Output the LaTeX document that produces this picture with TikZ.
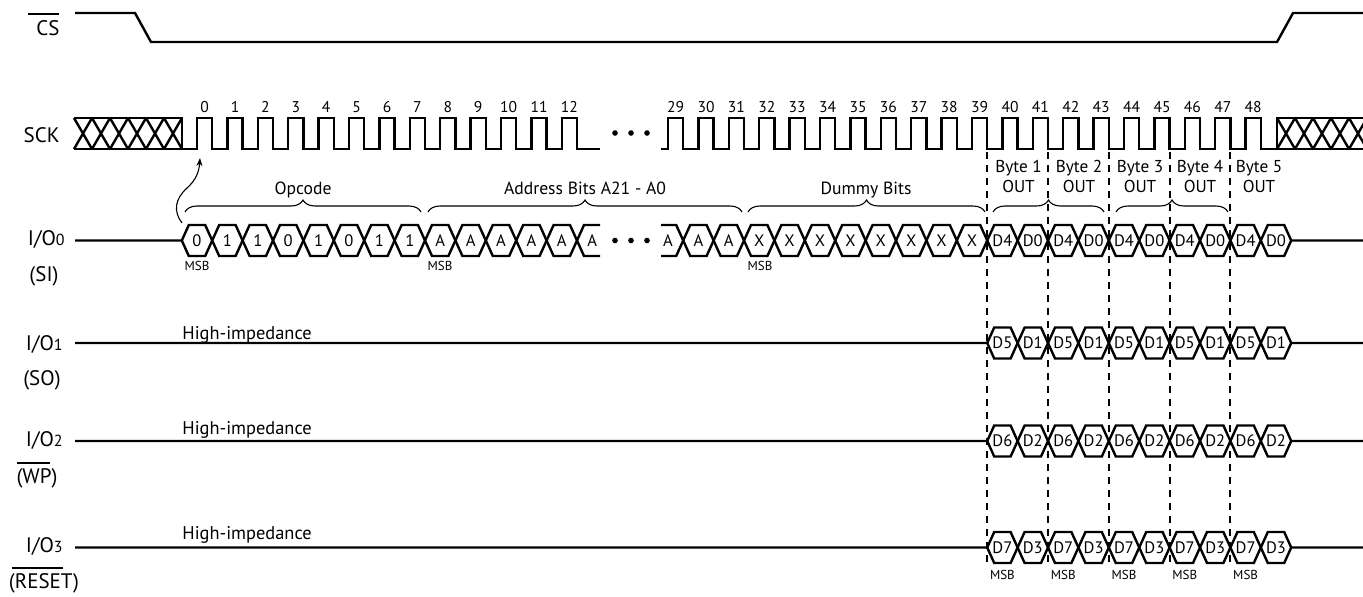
\documentclass[tikz,border=0pt]{standalone}
\usepackage{fontspec}
\setmainfont{PT Sans}
\usetikzlibrary{decorations.pathreplacing,arrows.meta}
\newcommand\smalldig[1]{{\fontsize{8}{8}\selectfont #1}}
\def\hh{15.5}
\def\dd{7}
% bus trace from crossing j0 to end point at 1291.2
\newcommand\busfrom[5]{%
  \draw[sig] #4 foreach \j in {#3,...,48} {
      -- ({30.4*\j-198.4-\dd},{#1-#2*\hh*(1-2*mod(\j-#3,2))})
      -- ({30.4*\j-198.4+\dd},{#1+#2*\hh*(1-2*mod(\j-#3,2))}) }
    -- ({1291.2-\dd},{#1-#2*\hh*(1-2*mod(49-#3,2))}) -- (1291.2,#1) #5;}
\begin{document}
\begin{tikzpicture}[x=0.5pt,y=-0.5pt,
  sig/.style={line width=1.2pt, line join=miter},
  thinl/.style={line width=0.55pt},
  ovl/.style={line width=0.8pt},
  dsh/.style={line width=1pt, dash pattern=on 3.5pt off 3pt},
  lbl/.style={font=\fontsize{10.5}{11}\selectfont, inner sep=0pt},
  num/.style={font=\fontsize{7.8}{8}\selectfont, inner sep=0pt},
  grp/.style={font=\fontsize{8.8}{9}\selectfont, inner sep=0pt},
  byt/.style={font=\fontsize{8.6}{9}\selectfont, inner sep=0pt},
  hiz/.style={font=\fontsize{9.2}{9}\selectfont, inner sep=0pt},
  bit/.style={font=\fontsize{8.3}{8}\selectfont, inner sep=0pt},
  msb/.style={font=\fontsize{6.5}{6}\selectfont, inner sep=0pt},
  brc/.style={thinl, decorate, decoration={brace, amplitude=6pt}},
]
\useasboundingbox (0,0) rectangle (1363,596);

% ---------- labels ----------
\node[lbl, anchor=base east] (lcs) at (60,35) {CS};
\draw[ovl] (28,14) -- (59,14);
\node[lbl, anchor=base east] (lsck) at (60,142) {SCK};
\node[lbl, anchor=base east] (lio0) at (65,245) {I/O\smalldig{0}};
\node[lbl, anchor=base] (lsi) at (44,281) {(SI)};
\node[lbl, anchor=base east] (lio1) at (63,350) {I/O\smalldig{1}};
\node[lbl, anchor=base] (lso) at (42,385) {(SO)};
\node[lbl, anchor=base east] (lio2) at (63,446) {I/O\smalldig{2}};
\node[lbl, anchor=base] (lwp) at (37,483) {(WP)};
\draw[ovl] (17,463) -- (50,463);
\node[lbl, anchor=base east] (lio3) at (63,552) {I/O\smalldig{3}};
\node[lbl, anchor=base] (lrst) at (44,588) {(RESET)};
\draw[ovl] (12,568) -- (63,568);

% ---------- CS ----------
\draw[sig] (75,13) -- (135,13) -- (151,42) -- (1277,42) -- (1293,13) -- (1363,13);

% ---------- SCK ----------
\draw[sig] (74,118) -- (182,118) -- (182,149) -- (74,149);
\foreach \k in {0,...,5}
  \draw[sig] ({74+18*\k},118) -- ({92+18*\k},149) ({74+18*\k},149) -- ({92+18*\k},118);
\draw[sig] (182,149) foreach \n in {0,...,12} {
    -- ({197+30.4*\n},149) -- ({197+30.4*\n},118)
    -- ({212.2+30.4*\n},118) -- ({212.2+30.4*\n},149) } -- (600,149);
\draw[sig] (661,149) foreach \n in {29,...,48} {
    -- ({668+30.4*(\n-29)},149) -- ({668+30.4*(\n-29)},118)
    -- ({683.2+30.4*(\n-29)},118) -- ({683.2+30.4*(\n-29)},149) } -- (1277,149);
\begin{scope}
  \clip (1270,100) rectangle (1363,170);
  \draw[sig] (1370,118) -- (1277,118) -- (1277,149) -- (1370,149);
  \foreach \k in {0,...,4}
    \draw[sig] ({1277+18*\k},118) -- ({1295+18*\k},149) ({1277+18*\k},149) -- ({1295+18*\k},118);
\end{scope}
\foreach \x in {615,631,647} {
  \fill (\x,133) circle[radius=1.4pt];
  \fill (\x,240.5) circle[radius=1.4pt];
}
\foreach \n in {0,...,12} \node[num] (n\n) at ({204.6+30.4*\n},107) {\n};
\foreach \n in {29,...,48} \node[num] (n\n) at ({675.6+30.4*(\n-29)},107) {\n};

% ---------- I/O0 first segment ----------
\draw[sig] (75,240.5) -- (181.8,240.5) -- ({181.8+\dd},{240.5-\hh})
  foreach \k in {1,...,13} {
    -- ({181.8+30.4*\k-\dd},{240.5-\hh*(1-2*mod(\k-1,2))})
    -- ({181.8+30.4*\k+\dd},{240.5-\hh*(1-2*mod(\k,2))}) }
  -- (600,{240.5+\hh});
\draw[sig] (181.8,240.5) -- ({181.8+\dd},{240.5+\hh})
  foreach \k in {1,...,13} {
    -- ({181.8+30.4*\k-\dd},{240.5+\hh*(1-2*mod(\k-1,2))})
    -- ({181.8+30.4*\k+\dd},{240.5+\hh*(1-2*mod(\k,2))}) }
  -- (600,{240.5-\hh});
\foreach \t [count=\k from 0] in {0,1,1,0,1,0,1,1,A,A,A,A,A,A}
  \node[bit] (a\k) at ({197+30.4*\k},240.5) {\t};

% ---------- I/O0 second segment ----------
\busfrom{240.5}{1}{29}{(661,{240.5-\hh})}{-- (1363,240.5)}
\busfrom{240.5}{-1}{29}{(661,{240.5+\hh})}{}
\foreach \t [count=\j from 29] in {A,A,A,X,X,X,X,X,X,X,X,D4,D0,D4,D0,D4,D0,D4,D0,D4,D0}
  \node[bit] (a\j) at ({668+30.4*(\j-29)},240.5) {\t};

% ---------- I/O1..3 ----------
\foreach \y/\nm in {343/p,441/q,547.5/r} {
  \busfrom{\y}{1}{40}{(75,\y) -- (987.2,\y) -- ({987.2+\dd},{\y-\hh})}{-- (1363,\y)}
  \busfrom{\y}{-1}{40}{(987.2,\y) -- ({987.2+\dd},{\y+\hh})}{}
}
\foreach \hi/\lo/\y/\nm in {D5/D1/343/p,D6/D2/441/q,D7/D3/547.5/r}
  \foreach \i in {0,...,4} {
    \node[bit] (\nm\i h) at ({1002.4+60.8*\i},\y) {\hi};
    \node[bit] (\nm\i l) at ({1032.8+60.8*\i},\y) {\lo};
  }
\node[hiz, anchor=base west] (hz1) at (182,339) {High-impedance};
\node[hiz, anchor=base west] (hz2) at (182,434) {High-impedance};
\node[hiz, anchor=base west] (hz3) at (182,539) {High-impedance};

% ---------- dashed lines ----------
\foreach \x in {987.2,1048,1108.8,1169.6,1230.4}
  \draw[dsh] (\x,152) -- (\x,564);

% ---------- braces and group labels ----------
\draw[brc] (185,212) -- (421,212);
\draw[brc] (428,212) -- (742,212);
\draw[brc] (748,212) -- (985,212);
\draw[brc] (993,212) -- (1104,212);
\draw[brc] (1116,212) -- (1228,212);
\node[grp, anchor=base] (gop) at (303,194) {Opcode};
\node[grp, anchor=base] (gad) at (585,194) {Address Bits A21 - A0};
\node[grp, anchor=base] (gdu) at (866,194) {Dummy Bits};
\foreach \i/\x in {1/1018.5,2/1079,3/1140,4/1200,5/1259} {
  \node[byt, anchor=base] (by\i) at (\x,172) {Byte \i};
  \node[byt, anchor=base] (out\i) at (\x,192) {OUT};
}

% ---------- MSB marks ----------
\foreach \x [count=\i] in {197,440,760}
  \node[msb] (m\i) at (\x,266) {MSB};
\foreach \x [count=\i] in {1002.4,1063.2,1124,1184.8,1245.6}
  \node[msb] (mm\i) at (\x,575) {MSB};

% ---------- arrow ----------
\coordinate (arS) at (182,223);
\coordinate (arM) at (187,188);
\coordinate (arE) at (200,158);
\draw[thinl, -{Stealth[length=4pt,width=3pt]}] (arS) .. controls (173,211) and (175,199) .. (arM)
  .. controls (196,180) and (199,172) .. (arE);
\end{tikzpicture}
\end{document}
